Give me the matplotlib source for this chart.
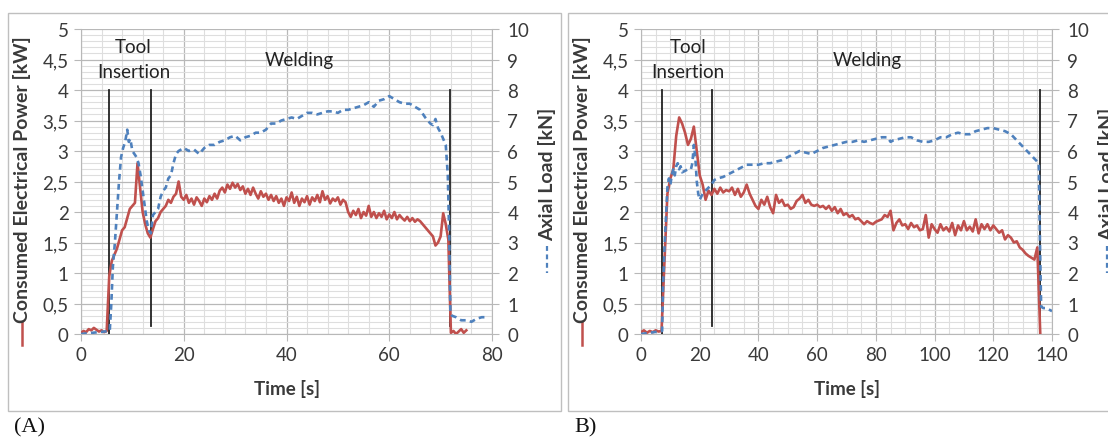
import numpy as np
import matplotlib
matplotlib.use("Agg")
import matplotlib.pyplot as plt
from matplotlib.lines import Line2D
from matplotlib.patches import Rectangle
from matplotlib.ticker import MultipleLocator

plt.rcParams["font.family"] = ["Lato", "DejaVu Sans"]

# ---- panel A: power (kW) sampled every 0.5 s, axial load (kN) -----------------
power_a_t = np.arange(0, 75.5, 0.5)
power_a = [
    0.02, 0.05, 0.03, 0.08, 0.06, 0.10, 0.07, 0.04, 0.06, 0.03,   # 0-4.5
    0.05, 0.95, 1.20, 1.30, 1.40, 1.55, 1.70, 1.75, 1.90, 2.05,   # 5-9.5
    2.10, 2.15, 2.80, 2.40, 2.00, 1.80, 1.65, 1.58, 1.72, 1.85,   # 10-14.5
    1.90, 2.00, 2.05, 2.10, 2.20, 2.15, 2.25, 2.30, 2.50, 2.25,   # 15-19.5
    2.20, 2.28, 2.15, 2.22, 2.12, 2.24, 2.18, 2.10, 2.22, 2.16,   # 20-24.5
    2.26, 2.20, 2.30, 2.22, 2.35, 2.40, 2.32, 2.45, 2.38, 2.48,   # 25-29.5
    2.40, 2.46, 2.36, 2.42, 2.30, 2.38, 2.28, 2.40, 2.30, 2.22,   # 30-34.5
    2.34, 2.25, 2.30, 2.20, 2.28, 2.18, 2.26, 2.15, 2.22, 2.10,   # 35-39.5
    2.24, 2.18, 2.32, 2.15, 2.25, 2.10, 2.22, 2.16, 2.26, 2.12,   # 40-44.5
    2.24, 2.18, 2.28, 2.16, 2.34, 2.20, 2.26, 2.14, 2.22, 2.18,   # 45-49.5
    2.24, 2.12, 2.20, 2.16, 2.00, 1.92, 2.02, 1.95, 2.05, 1.90,   # 50-54.5
    2.00, 1.94, 2.10, 1.92, 2.00, 1.90, 1.98, 1.92, 2.02, 1.88,   # 55-59.5
    1.96, 1.90, 2.00, 1.88, 1.95, 1.90, 1.86, 1.92, 1.85, 1.90,   # 60-64.5
    1.84, 1.88, 1.85, 1.80, 1.75, 1.70, 1.65, 1.60, 1.45, 1.50,   # 65-69.5
    1.60, 1.98, 1.80, 1.55, 0.02, 0.05, 0.00, 0.04, 0.08, 0.02,   # 70-74.5
    0.06,                                                         # 75
]
load_a_t = [0, 5.6, 5.9, 6.2, 6.6, 7.0, 7.4, 7.8, 8.2, 8.6, 9.0, 9.3, 9.6, 10.0,
            10.4, 10.8, 11.2, 11.6, 12.0, 12.4, 12.8, 13.2, 13.6, 14.0, 14.5, 15,
            15.5, 16, 16.5, 17, 17.5, 18, 18.5, 19, 20, 21, 22, 23, 24, 25, 26, 27,
            28, 29, 30, 31, 32, 33, 34, 35, 36, 37, 38, 39, 40, 41, 42, 43, 44, 45,
            46, 47, 48, 49, 50, 51, 52, 53, 54, 55, 56, 57, 58, 59, 60, 61, 62, 63,
            64, 65, 66, 67, 68, 68.5, 69, 69.5, 70, 70.5, 71, 71.4, 71.7, 71.9,
            72.2, 73, 74, 75, 76, 77, 78, 79]
load_a = [0, 0.1, 1.0, 2.2, 3.0, 4.0, 5.0, 5.8, 6.1, 6.3, 6.7, 6.3, 6.4, 6.0,
          5.9, 5.8, 5.6, 5.2, 4.7, 4.2, 3.7, 3.4, 3.3, 3.9, 4.0, 4.1,
          4.5, 4.7, 4.8, 5.1, 5.2, 5.6, 5.9, 6.0, 6.1, 6.0, 6.05, 5.9, 6.1, 6.2, 6.2, 6.3,
          6.35, 6.45, 6.5, 6.35, 6.45, 6.5, 6.6, 6.6, 6.7, 6.9, 6.9, 7.0, 7.05, 7.1, 7.05, 7.15, 7.25, 7.25,
          7.2, 7.25, 7.3, 7.3, 7.25, 7.35, 7.35, 7.4, 7.45, 7.5, 7.6, 7.45, 7.65, 7.7, 7.8, 7.7, 7.6, 7.55,
          7.55, 7.45, 7.35, 7.1, 6.9, 6.85, 7.05, 6.75, 6.6, 6.4, 6.2, 5.2, 3.0, 0.7,
          0.6, 0.55, 0.45, 0.45, 0.4, 0.5, 0.55, 0.55]
phase_a = [5.5, 13.7, 71.8]

# ---- panel B: power sampled every 1 s -----------------------------------------
power_b_t = np.arange(0, 137, 1.0)
power_b = [
    0.03, 0.06, 0.02, 0.05, 0.03, 0.06, 0.04, 0.05, 1.20, 2.30,   # 0-9
    2.55, 2.70, 3.25, 3.55, 3.45, 3.30, 3.10, 3.20, 3.40, 3.00,   # 10-19
    2.60, 2.45, 2.20, 2.35, 2.28, 2.38, 2.30, 2.40, 2.32, 2.36,   # 20-29
    2.34, 2.40, 2.28, 2.38, 2.25, 2.32, 2.45, 2.30, 2.20, 2.10,   # 30-39
    2.05, 2.20, 2.12, 2.25, 2.08, 1.98, 2.28, 2.15, 2.20, 2.10,   # 40-49
    2.12, 2.05, 2.08, 2.18, 2.22, 2.28, 2.15, 2.20, 2.12, 2.10,   # 50-59
    2.12, 2.08, 2.10, 2.05, 2.10, 2.02, 2.08, 1.98, 2.05, 1.95,   # 60-69
    1.98, 1.92, 1.95, 1.88, 1.90, 1.85, 1.80, 1.85, 1.82, 1.80,   # 70-79
    1.84, 1.86, 1.88, 1.95, 1.92, 2.02, 1.70, 1.82, 1.88, 1.78,   # 80-89
    1.80, 1.72, 1.82, 1.75, 1.78, 1.70, 1.72, 1.95, 1.58, 1.80,   # 90-99
    1.72, 1.66, 1.80, 1.70, 1.75, 1.68, 1.82, 1.62, 1.78, 1.70,   # 100-109
    1.85, 1.70, 1.76, 1.68, 1.88, 1.65, 1.80, 1.72, 1.80, 1.70,   # 110-119
    1.78, 1.72, 1.66, 1.70, 1.55, 1.62, 1.58, 1.50, 1.52, 1.42,   # 120-129
    1.38, 1.32, 1.28, 1.25, 1.22, 1.42, 0.00,                     # 130-136
]
load_b_t = [0, 7.2, 7.5, 8, 8.5, 9, 9.5, 10, 10.5, 11, 11.5, 12, 12.5, 13, 13.5, 14,
            15, 16, 17, 17.5, 18, 18.5, 19, 19.5, 20, 21, 22, 23, 24, 25, 26, 28, 30,
            32, 34, 36, 38, 40, 42, 44, 46, 48, 50, 52, 54, 56, 58, 60, 62, 64, 66,
            68, 70, 72, 74, 76, 78, 80, 82, 84, 85, 86, 88, 90, 92, 94, 96, 98, 100,
            102, 104, 106, 108, 110, 112, 114, 116, 118, 120, 122, 124, 126, 128,
            130, 132, 134, 135.5, 135.9, 136.3, 137, 138, 139, 140]
load_b = [0, 0.1, 1.5, 2.8, 3.8, 4.8, 5.1, 4.9, 5.2, 5.4, 5.2, 5.5, 5.6, 5.4, 5.5, 5.3,
          5.35, 5.4, 5.4, 5.6, 6.2, 5.8, 5.0, 4.6, 4.4, 4.6, 4.7, 4.8, 4.9, 5.05, 5.1, 5.15, 5.25,
          5.35, 5.45, 5.55, 5.55, 5.55, 5.6, 5.6, 5.65, 5.7, 5.8, 5.9, 6.0, 5.95, 5.9, 6.0, 6.1, 6.15, 6.2,
          6.25, 6.3, 6.3, 6.35, 6.3, 6.35, 6.4, 6.45, 6.45, 6.3, 6.35, 6.4, 6.45, 6.45, 6.35, 6.3, 6.3, 6.35,
          6.45, 6.45, 6.55, 6.6, 6.55, 6.55, 6.65, 6.7, 6.75, 6.75, 6.7, 6.65, 6.55, 6.35,
          6.15, 5.95, 5.75, 5.6, 3.0, 0.9, 0.85, 0.85, 0.8, 0.75]
phase_b = [7.0, 24.3, 135.9]

RED = "#c0504d"
BLUE = "#4f81bd"
W, H = 1108, 439


def fx(px):
    return px / W


def fy(py):
    return 1 - py / H


def panel(fig, ox, xmax, xminor, t_p, p, t_l, l, phases, tool_x, weld_x, tag):
    left, right, top, bot = 81 + ox, (492 if xmax == 80 else 1052), 30, 335
    # outer frame of the panel
    fig.add_artist(Rectangle((fx(8 + ox), fy(412)), fx(553), 398 / H, transform=fig.transFigure,
                             fill=False, ec="#bfbfbf", lw=1.0))
    ax = fig.add_axes([fx(left), fy(bot), fx(right - left), (bot - top) / H])
    ax.set_xlim(0, xmax)
    ax.set_ylim(0, 5)
    ax.xaxis.set_major_locator(MultipleLocator(20))
    ax.xaxis.set_minor_locator(MultipleLocator(xminor))
    ax.yaxis.set_major_locator(MultipleLocator(0.5))
    ax.yaxis.set_minor_locator(MultipleLocator(0.1))
    ax.grid(which="major", color="#b8b8b8", lw=0.9)
    ax.grid(which="minor", color="#dedede", lw=0.8)
    ax.set_axisbelow(True)
    yt = np.arange(0, 5.01, 0.5)
    ax.set_yticks(yt)
    ax.set_yticklabels([("%g" % v).replace(".", ",") for v in yt])
    ax.tick_params(which="minor", length=0)
    ax.tick_params(which="major", length=5, color="#b8b8b8", labelsize=13.5,
                   labelcolor="#3a3a3a", pad=4)
    ax.spines["top"].set_visible(False)
    for s in ("left", "right", "bottom"):
        ax.spines[s].set_color("#b8b8b8")

    for x in phases[:1]:
        ax.plot([x, x], [0, 4], color="#222222", lw=1.3, zorder=3)
    for x in phases[1:]:
        ax.plot([x, x], [0.13, 4], color="#222222", lw=1.3, zorder=3)

    ax.plot(t_p, p, color=RED, lw=1.9, zorder=4)
    ax2 = ax.twinx()
    ax2.set_ylim(0, 10)
    ax2.set_yticks(range(0, 11))
    ax2.tick_params(length=5, color="#b8b8b8", labelsize=13.5, labelcolor="#3a3a3a", pad=6)
    for s in ax2.spines.values():
        s.set_visible(False)
    ax2.plot(t_l, l, color=BLUE, lw=1.9, dashes=(2.2, 1.6), zorder=5)

    ax.text(tool_x, 4.72, "Tool", ha="center", va="center", fontsize=13.5, color="#222222")
    ax.text(tool_x, 4.31, "Insertion", ha="center", va="center", fontsize=13.5, color="#222222")
    ax.text(weld_x, 4.5, "Welding", ha="center", va="center", fontsize=13.5, color="#222222")
    ax.set_xlabel("Time [s]", fontsize=13.5, fontweight="bold", color="#3a3a3a", labelpad=11)

    # axis titles with their series key
    fig.text(fx(22 + ox), fy(180), "Consumed Electrical Power [kW]", rotation=90,
             ha="center", va="center", fontsize=14, fontweight="bold", color="#3a3a3a")
    fig.add_artist(Line2D([fx(22 + ox)] * 2, [fy(323), fy(346)], color=RED, lw=1.8,
                          transform=fig.transFigure))
    rx = right + 55
    fig.text(fx(rx), fy(174), "Axial Load [kN]", rotation=90,
             ha="center", va="center", fontsize=14, fontweight="bold", color="#3a3a3a")
    fig.add_artist(Line2D([fx(rx)] * 2, [fy(247), fy(274)], color=BLUE, lw=1.6,
                          dashes=(2.2, 1.6), transform=fig.transFigure))
    fig.text(fx(14 + ox), fy(428), tag, ha="left", va="center", fontsize=16,
             family="Liberation Serif", color="#111111")
    return ax


fig = plt.figure(figsize=(W / 100, H / 100), dpi=100)
fig.patch.set_facecolor("white")
panel(fig, 0, 80, 4, power_a_t, power_a, load_a_t, load_a, phase_a, 10.2, 42.5, "(A)")
panel(fig, 560, 140, 5, power_b_t, power_b, load_b_t, load_b, phase_b, 16.0, 77.0, "B)")
fig.savefig("out.png", dpi=100)
